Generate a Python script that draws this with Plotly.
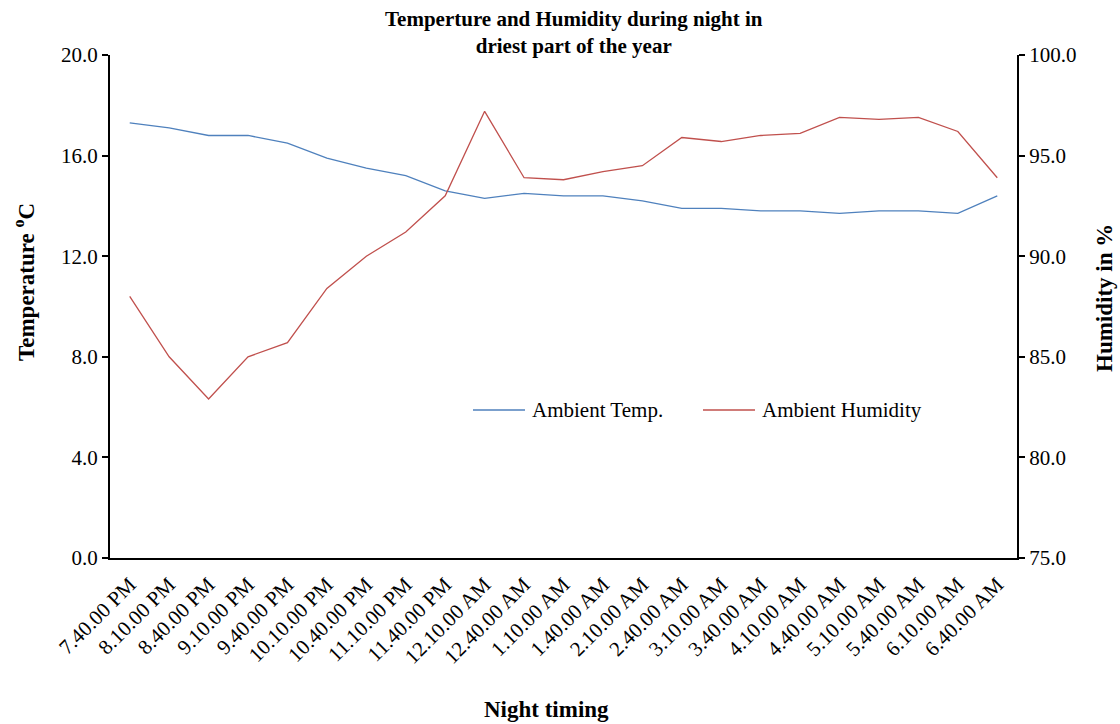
import plotly.graph_objects as go

# Night-time readings, every 30 minutes
times = [
    "7.40.00 PM", "8.10.00 PM", "8.40.00 PM", "9.10.00 PM", "9.40.00 PM",
    "10.10.00 PM", "10.40.00 PM", "11.10.00 PM", "11.40.00 PM", "12.10.00 AM",
    "12.40.00 AM", "1.10.00 AM", "1.40.00 AM", "2.10.00 AM", "2.40.00 AM",
    "3.10.00 AM", "3.40.00 AM", "4.10.00 AM", "4.40.00 AM", "5.10.00 AM",
    "5.40.00 AM", "6.10.00 AM", "6.40.00 AM",
]
ambient_temp = [
    17.3, 17.1, 16.8, 16.8, 16.5, 15.9, 15.5, 15.2, 14.6, 14.3,
    14.5, 14.4, 14.4, 14.2, 13.9, 13.9, 13.8, 13.8, 13.7, 13.8,
    13.8, 13.7, 14.4,
]
ambient_humidity = [
    88.0, 85.0, 82.9, 85.0, 85.7, 88.4, 90.0, 91.2, 93.0, 97.2,
    93.9, 93.8, 94.2, 94.5, 95.9, 95.7, 96.0, 96.1, 96.9, 96.8,
    96.9, 96.2, 93.9,
]
series_names = ["Ambient Temp.", "Ambient Humidity"]
series_colors = ["#4F81BD", "#C0504D"]

FONT = "Liberation Serif, Times New Roman, serif"

# plot area in pixels
W, H = 1120, 724
PL, PR, PT, PB = 110, 1017, 55, 558


def px_x(x):
    return (x - PL) / (PR - PL)


def px_y(y):
    return (PB - y) / (PB - PT)


fig = go.Figure()
fig.add_trace(go.Scatter(
    x=times, y=ambient_temp, name=series_names[0], mode="lines",
    line=dict(color=series_colors[0], width=1.3), yaxis="y",
))
fig.add_trace(go.Scatter(
    x=times, y=ambient_humidity, name=series_names[1], mode="lines",
    line=dict(color=series_colors[1], width=1.3), yaxis="y2",
))

axis_common = dict(
    showgrid=False, zeroline=False, showline=True, linecolor="black",
    linewidth=2, tickfont=dict(family=FONT, size=21, color="black"),
)

title_font = dict(family=FONT, size=23, color="black")

annotations = [
    dict(text="<b>Temperture and Humidity during night in<br>driest part of the year</b>",
         x=px_x(574), y=px_y(5), xref="paper", yref="paper", showarrow=False,
         xanchor="center", yanchor="top",
         font=dict(family=FONT, size=21, color="black")),
    dict(text="<b>Night timing</b>", x=px_x(546), y=px_y(710),
         xref="paper", yref="paper", showarrow=False,
         xanchor="center", yanchor="middle", font=title_font),
    dict(text="<b>Temperature <sup>o</sup>C</b>", x=px_x(24), y=px_y(282),
         xref="paper", yref="paper", showarrow=False, textangle=-90,
         xanchor="center", yanchor="middle", font=title_font),
    dict(text="<b>Humidity in %</b>", x=px_x(1104), y=px_y(298),
         xref="paper", yref="paper", showarrow=False, textangle=-90,
         xanchor="center", yanchor="middle", font=title_font),
]

# legend drawn inside the plot: line swatch followed by label
shapes = []
legend_y = px_y(410)
legend_items = [(473, 525), (703, 755)]
for (x0, x1), name, color in zip(legend_items, series_names, series_colors):
    shapes.append(dict(type="line", xref="paper", yref="paper",
                       x0=px_x(x0), x1=px_x(x1), y0=legend_y, y1=legend_y,
                       line=dict(color=color, width=1.3)))
    annotations.append(dict(text=name, x=px_x(x1 + 5), y=legend_y,
                            xref="paper", yref="paper", showarrow=False,
                            xanchor="left", yanchor="middle",
                            font=dict(family=FONT, size=21, color="black")))

fig.update_layout(
    width=W, height=H,
    margin=dict(l=PL, r=W - PR, t=PT, b=H - PB),
    paper_bgcolor="white", plot_bgcolor="white",
    font=dict(family=FONT, color="black"),
    xaxis=dict(
        type="category", range=[-0.5, len(times) - 0.5],
        tickangle=-45, ticks="", ticklabelstandoff=4, **axis_common,
    ),
    yaxis=dict(
        range=[0, 20], dtick=4, tickformat=".1f",
        ticks="outside", ticklen=6, tickwidth=2, tickcolor="black",
        **axis_common,
    ),
    yaxis2=dict(
        range=[75, 100], dtick=5, tickformat=".1f", overlaying="y",
        side="right", ticks="outside", ticklen=6, tickwidth=2,
        tickcolor="black", **axis_common,
    ),
    showlegend=False,
    shapes=shapes,
    annotations=annotations,
)
fig.write_html("out.html")
